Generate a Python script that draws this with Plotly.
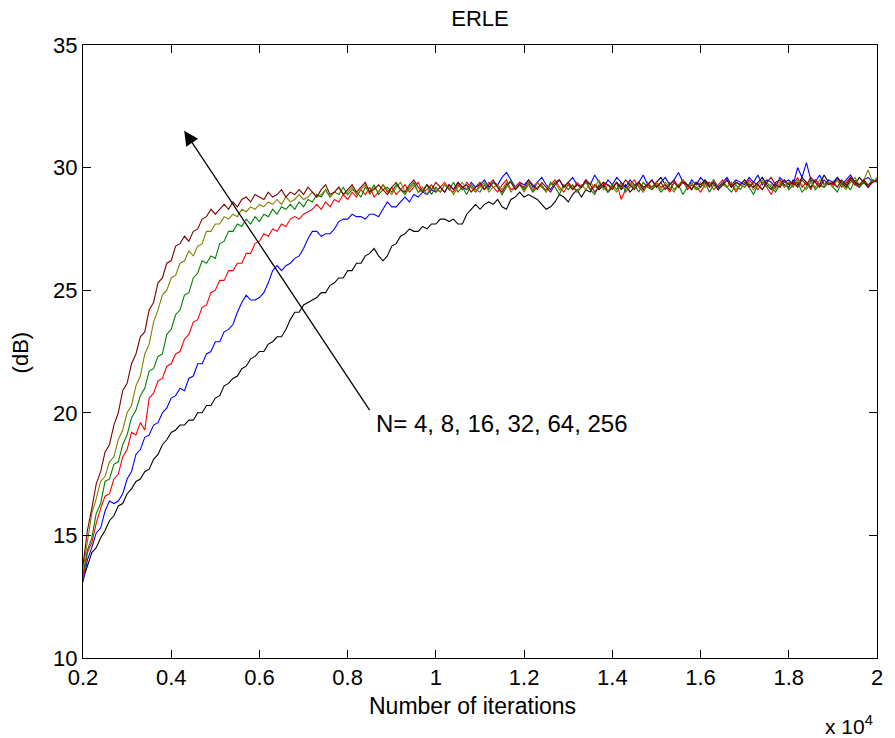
import numpy as np
import plotly.graph_objects as go

# x positions in units of 10^4 iterations (0.2 ... 2.0, step 0.01)
x_iter = [round(0.2 + 0.01 * i, 2) for i in range(181)]

erle_n256 = [
    13.8, 15.2, 16.1, 17.1, 17.6, 18.4, 18.7, 19.5, 20.0, 20.9,
    21.2, 22.0, 22.4, 23.1, 23.3, 24.2, 24.5, 25.3, 25.5, 26.1,
    26.2, 26.8, 26.9, 27.2, 27.0, 27.4, 27.5, 27.9, 28.0, 28.3,
    28.1, 28.3, 28.5, 28.3, 28.6, 28.4, 28.7, 28.8, 28.6, 28.9,
    28.8, 28.7, 29.0, 28.8, 28.9, 29.1, 28.8, 29.0, 28.9, 29.1,
    28.9, 29.2, 29.0, 28.8, 29.1, 29.3, 28.9, 29.0, 29.2, 28.9,
    29.1, 29.3, 29.0, 29.2, 29.4, 29.0, 29.1, 29.3, 29.1, 28.9,
    29.2, 29.4, 29.1, 29.0, 29.3, 29.5, 29.2, 29.0, 29.3, 29.1,
    29.4, 29.2, 29.0, 29.3, 29.1, 29.4, 29.2, 29.3, 29.0, 29.2,
    29.4, 29.1, 29.3, 29.5, 29.2, 29.0, 29.3, 29.4, 29.1, 29.3,
    29.2, 29.5, 29.3, 29.1, 29.4, 29.2, 29.0, 29.3, 29.5, 29.2,
    29.4, 29.1, 29.3, 29.2, 29.5, 29.3, 29.0, 29.2, 29.4, 29.3,
    29.1, 29.4, 29.2, 29.5, 29.3, 29.1, 29.4, 29.2, 29.3, 29.5,
    29.2, 29.4, 29.1, 29.3, 29.5, 29.2, 29.4, 29.3, 29.1, 29.4,
    29.3, 29.5, 29.2, 29.4, 29.1, 29.3, 29.5, 29.2, 29.4, 29.3,
    29.5, 29.2, 29.4, 29.3, 29.1, 29.4, 29.6, 29.3, 29.2, 29.5,
    29.3, 29.4, 29.2, 29.5, 29.3, 29.6, 29.4, 29.2, 29.5, 29.3,
    29.4, 29.2, 29.5, 29.3, 29.6, 29.4, 29.3, 29.5, 29.2, 29.4,
    29.5,
]

erle_n64 = [
    13.6, 14.7, 15.9, 16.5, 17.2, 17.4, 18.0, 18.2, 18.9, 19.3,
    20.0, 20.3, 21.1, 21.5, 22.4, 22.8, 23.7, 24.2, 24.8, 25.0,
    25.5, 25.6, 26.1, 26.2, 26.6, 26.4, 26.8, 26.9, 27.4, 27.4,
    27.7, 27.7, 28.0, 27.9, 28.1, 28.0, 28.3, 28.2, 28.4, 28.3,
    28.5, 28.4, 28.6, 28.5, 28.7, 28.5, 28.8, 28.6, 28.7, 28.9,
    28.7, 28.8, 29.0, 28.8, 28.9, 29.1, 28.8, 29.0, 29.2, 28.9,
    29.0, 29.2, 28.9, 29.1, 29.3, 28.9, 29.2, 29.0, 29.3, 29.1,
    28.9, 29.2, 29.4, 29.0, 29.1, 29.3, 29.0, 29.2, 28.9, 29.3,
    29.1, 29.0, 29.3, 29.2, 28.9, 29.2, 29.4, 29.1, 29.3, 29.0,
    29.2, 29.4, 29.0, 29.2, 29.3, 29.1, 29.4, 29.0, 29.2, 29.3,
    29.0, 29.3, 29.1, 29.4, 29.2, 29.0, 29.3, 29.4, 29.1, 29.2,
    29.4, 29.2, 29.0, 29.3, 29.1, 29.4, 29.2, 29.5, 29.1, 29.3,
    29.2, 29.0, 29.3, 29.1, 29.4, 29.2, 29.3, 29.0, 29.4, 29.2,
    29.3, 29.1, 29.4, 29.2, 29.0, 29.3, 29.5, 29.2, 29.3, 29.1,
    29.4, 29.2, 29.3, 29.5, 29.1, 29.3, 29.2, 29.4, 29.1, 29.3,
    29.2, 29.4, 29.1, 29.3, 29.5, 29.2, 29.3, 29.1, 29.4, 29.2,
    29.4, 29.2, 29.5, 29.3, 29.1, 29.4, 29.2, 29.5, 29.3, 29.4,
    29.2, 29.5, 29.3, 29.1, 29.4, 29.6, 29.3, 29.5, 29.9, 29.4,
    29.6,
]

erle_n32 = [
    13.4, 14.4, 14.9, 15.9, 16.3, 17.2, 17.3, 17.9, 18.0, 18.7,
    19.1, 19.8, 20.1, 20.7, 21.0, 21.7, 21.8, 22.3, 22.4, 23.2,
    23.4, 24.0, 24.2, 24.8, 24.9, 25.5, 25.7, 26.2, 26.1, 26.4,
    26.3, 26.9, 27.0, 27.4, 27.4, 27.7, 27.6, 27.9, 27.7, 28.0,
    27.8, 28.1, 28.0, 28.3, 28.1, 28.4, 28.3, 28.5, 28.3, 28.6,
    28.4, 28.7, 28.6, 28.9, 28.8, 29.1, 28.8, 29.0, 28.9, 29.2,
    28.9, 29.1, 29.0, 28.8, 29.2, 29.0, 29.3, 28.9, 29.1, 29.2,
    29.0, 29.3, 29.1, 28.9, 29.2, 29.4, 29.0, 29.1, 29.3, 28.9,
    29.2, 29.0, 29.3, 29.1, 29.4, 29.0, 29.2, 28.9, 29.3, 29.1,
    29.0, 29.3, 29.1, 29.4, 29.2, 28.9, 29.2, 29.5, 29.1, 29.3,
    29.1, 29.4, 29.0, 29.2, 29.3, 29.0, 29.4, 29.2, 28.9, 29.3,
    29.1, 29.3, 29.0, 29.2, 29.4, 29.1, 28.9, 29.3, 29.2, 29.0,
    29.3, 29.1, 29.4, 29.0, 29.2, 29.3, 29.0, 29.4, 29.2, 29.1,
    29.3, 29.0, 29.2, 29.4, 29.1, 29.3, 28.9, 29.2, 29.4, 29.1,
    29.2, 29.4, 29.0, 29.3, 29.1, 29.4, 29.2, 29.0, 29.3, 29.1,
    29.4, 29.2, 28.9, 29.3, 29.1, 29.4, 29.2, 29.0, 29.3, 29.5,
    29.1, 29.3, 29.4, 29.0, 29.2, 29.5, 29.1, 29.3, 29.2, 29.4,
    29.2, 29.0, 29.4, 29.3, 29.1, 29.5, 29.2, 29.4, 29.3, 29.5,
    29.4,
]

erle_n16 = [
    13.2, 14.3, 14.7, 15.5, 16.1, 16.6, 16.7, 17.3, 17.5, 18.2,
    18.5, 19.2, 19.1, 19.6, 19.3, 20.6, 20.8, 21.3, 21.4, 21.9,
    22.0, 22.4, 22.5, 23.0, 23.2, 23.7, 23.8, 24.3, 24.4, 24.9,
    25.0, 25.4, 25.4, 25.8, 25.8, 26.1, 26.1, 26.5, 26.5, 26.9,
    27.0, 27.3, 27.2, 27.5, 27.4, 27.7, 27.6, 27.9, 28.0, 27.9,
    28.1, 28.2, 28.3, 28.5, 28.3, 28.6, 28.4, 28.7, 28.6, 28.9,
    28.7, 29.0, 28.8, 29.1, 28.9, 29.2, 28.8, 29.0, 29.3, 29.0,
    29.2, 28.9, 29.1, 29.3, 29.0, 29.2, 29.4, 29.0, 29.1, 29.3,
    29.0, 29.2, 29.4, 29.1, 29.0, 29.3, 29.1, 29.4, 29.2, 29.0,
    29.3, 29.1, 29.4, 29.2, 29.0, 29.3, 29.5, 29.1, 29.2, 29.4,
    29.1, 29.3, 29.0, 29.4, 29.2, 29.1, 29.3, 29.5, 29.2, 29.0,
    29.3, 29.1, 29.4, 29.2, 29.5, 29.1, 29.3, 29.2, 29.4, 29.0,
    29.2, 29.4, 28.7, 29.1, 29.3, 29.5, 29.2, 29.0, 29.3, 29.1,
    29.4, 29.2, 29.3, 29.0, 29.4, 29.2, 29.5, 29.1, 29.3, 29.2,
    29.0, 29.3, 29.4, 29.1, 29.3, 29.5, 29.2, 29.4, 29.0, 29.3,
    29.2, 29.5, 29.3, 29.1, 29.4, 29.2, 28.9, 29.3, 29.5, 29.2,
    29.4, 29.3, 29.6, 29.2, 29.4, 29.1, 29.5, 29.3, 29.2, 29.4,
    29.3, 29.5, 29.2, 29.4, 29.6, 29.3, 29.2, 29.5, 29.3, 29.4,
    29.5,
]

erle_n8 = [
    13.1, 14.0, 14.5, 15.1, 15.3, 16.0, 16.4, 16.3, 16.4, 16.7,
    17.3, 17.6, 18.3, 18.5, 19.0, 19.1, 19.5, 19.6, 20.0, 20.2,
    20.6, 20.7, 21.0, 20.9, 21.4, 21.5, 22.0, 22.0, 22.4, 22.5,
    22.9, 22.9, 23.3, 23.4, 23.6, 24.1, 24.5, 24.8, 24.6, 24.6,
    24.7, 24.9, 25.3, 25.8, 26.0, 25.8, 26.0, 26.1, 26.3, 26.4,
    26.7, 27.1, 27.4, 27.4, 27.2, 27.3, 27.3, 27.5, 27.8, 27.9,
    27.9, 28.1, 28.0, 28.0, 27.9, 28.1, 28.1, 28.0, 28.3, 28.6,
    28.4, 28.4, 28.6, 28.8, 28.6, 28.9, 28.8, 29.0, 28.9, 29.1,
    29.0, 29.2, 29.0, 29.3, 29.1, 29.4, 29.2, 29.1, 29.4, 29.2,
    29.3, 29.5, 29.2, 29.4, 29.3, 29.6, 29.8, 29.5, 29.2, 29.4,
    29.3, 29.5, 29.2, 29.4, 29.6, 29.3, 29.1, 29.4, 29.5, 29.2,
    29.4, 29.6, 29.3, 29.2, 29.5, 29.3, 29.7, 29.4, 29.2, 29.5,
    29.3, 29.6, 29.4, 29.2, 29.5, 29.3, 29.4, 29.7, 29.3, 29.5,
    29.2, 29.4, 29.6, 29.3, 29.5, 29.8, 29.4, 29.2, 29.5, 29.3,
    29.6, 29.4, 29.3, 29.5, 29.2, 29.4, 29.6, 29.3, 29.5, 29.4,
    29.3, 29.6, 29.4, 29.7, 29.3, 29.5, 29.4, 29.2, 29.6, 29.4,
    29.5, 29.3, 30.0, 29.6, 30.2, 29.5, 29.4, 29.7, 29.3, 29.5,
    29.4, 29.6, 29.3, 29.5, 29.7, 29.4, 29.2, 29.5, 29.6, 29.4,
    29.5,
]

erle_n4 = [
    13.2, 13.8, 14.3, 14.5, 14.9, 15.2, 15.6, 15.8, 16.2, 16.3,
    16.7, 16.9, 17.2, 17.3, 17.6, 17.7, 18.1, 18.3, 18.7, 18.9,
    19.2, 19.3, 19.5, 19.5, 19.7, 19.7, 20.0, 20.0, 20.3, 20.3,
    20.6, 20.7, 21.1, 21.2, 21.4, 21.5, 21.8, 21.9, 22.2, 22.3,
    22.5, 22.5, 22.8, 22.9, 23.1, 23.1, 23.4, 23.8, 24.1, 24.1,
    24.4, 24.5, 24.6, 24.7, 24.9, 24.9, 25.2, 25.3, 25.5, 25.5,
    25.8, 25.8, 26.1, 26.1, 26.4, 26.5, 26.7, 26.4, 26.2, 26.4,
    26.8, 26.9, 27.2, 27.3, 27.5, 27.4, 27.4, 27.6, 27.5, 27.7,
    27.7, 27.9, 27.9, 27.8, 27.9, 27.7, 27.7, 28.1, 28.3, 28.5,
    28.3, 28.5, 28.6, 28.5, 28.7, 28.4, 28.3, 28.7, 28.8, 29.0,
    28.8, 28.9, 28.8, 28.7, 28.5, 28.3, 28.4, 28.6, 28.9, 28.8,
    28.6, 28.9, 29.1, 28.8, 29.1, 29.0, 29.3, 29.1, 29.3, 29.0,
    29.2, 29.4, 29.1, 29.3, 29.0, 29.2, 29.4, 29.1, 29.3, 29.2,
    29.4, 29.6, 29.3, 29.1, 29.4, 29.2, 29.5, 29.3, 29.1, 29.4,
    29.2, 29.5, 29.3, 29.4, 29.1, 29.3, 29.5, 29.2, 29.4, 29.3,
    29.5, 29.3, 29.2, 29.4, 29.6, 29.3, 29.1, 29.4, 29.5, 29.3,
    29.2, 29.5, 29.3, 29.6, 29.4, 29.2, 29.5, 29.3, 29.7, 29.4,
    29.3, 29.6, 29.4, 29.2, 29.5, 29.3, 29.6, 29.4, 29.2, 29.5,
    29.4,
]

series = [
    ("N=4", erle_n4, "#000000"),
    ("N=8", erle_n8, "#0000FF"),
    ("N=16", erle_n16, "#FF0000"),
    ("N=32", erle_n32, "#008000"),
    ("N=64", erle_n64, "#808000"),
    ("N=256", erle_n256, "#800000"),
]

x_ticks = [0.2, 0.4, 0.6, 0.8, 1.0, 1.2, 1.4, 1.6, 1.8, 2.0]
x_tick_labels = ["0.2", "0.4", "0.6", "0.8", "1", "1.2", "1.4", "1.6", "1.8", "2"]
y_ticks = [10, 15, 20, 25, 30, 35]

FONT = "Arial, Liberation Sans, Helvetica, sans-serif"

fig = go.Figure()
for name, vals, col in series:
    n = min(len(vals), len(x_iter))
    fig.add_trace(go.Scatter(
        x=x_iter[:n], y=vals[:n], mode="lines", name=name,
        line=dict(color=col, width=1.1), hoverinfo="skip",
    ))

axis_common = dict(
    showline=True, linecolor="black", linewidth=1, mirror="ticks",
    ticks="inside", ticklen=8, tickcolor="black", tickwidth=1,
    showgrid=False, zeroline=False,
    tickfont=dict(family=FONT, size=22, color="black"),
)

fig.update_layout(
    width=895, height=738,
    margin=dict(l=83, r=12, t=45, b=80),
    paper_bgcolor="white", plot_bgcolor="white",
    showlegend=False,
    xaxis=dict(range=[0.2, 2.0], tickvals=x_ticks, ticktext=x_tick_labels, **axis_common),
    yaxis=dict(range=[10, 35], tickvals=y_ticks, **axis_common),
    title=dict(text="ERLE", x=0.5, xref="paper", xanchor="center",
               y=1 - 18 / 738, yref="container", yanchor="middle",
               font=dict(family=FONT, size=22, color="black")),
    annotations=[
        dict(x=0.491, y=-(706 - 658) / 613, xref="paper", yref="paper", text="Number of iterations",
             showarrow=False, xanchor="center", yanchor="middle",
             font=dict(family=FONT, size=23, color="black")),
        dict(x=-0.079, y=0.499, xref="paper", yref="paper", text="(dB)", textangle=-90,
             showarrow=False, xanchor="center", yanchor="middle",
             font=dict(family=FONT, size=22, color="black")),
        dict(x=0.997, y=-(725 - 658) / 613, xref="paper", yref="paper", text="x 10<sup>4</sup>",
             showarrow=False, xanchor="right", yanchor="middle",
             font=dict(family=FONT, size=21, color="black")),
        dict(x=0.4295, y=31.5, xref="x", yref="y", ax=0.852, ay=20.05, axref="x", ayref="y",
             text="", showarrow=True, arrowhead=2, arrowsize=2.2, arrowwidth=1.3,
             arrowcolor="black", standoff=0, startstandoff=0),
        dict(x=0.859, y=19.56, xref="x", yref="y", text="N= 4, 8, 16, 32, 64, 256",
             showarrow=False, xanchor="left", yanchor="middle",
             font=dict(family=FONT, size=24, color="black")),
    ],
)

fig.write_html("out.html")
